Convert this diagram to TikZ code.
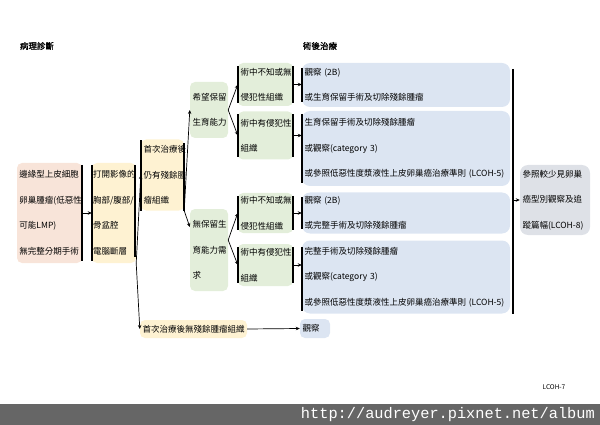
\documentclass[tikz,border=0pt]{standalone}
\usepackage{xcolor}
\usepackage{fontspec}
\setmainfont{Noto Sans CJK TC}
\newfontfamily\titlefont[FakeBold=1.5]{Noto Sans CJK TC}
\newfontfamily\urlfont{Liberation Mono}
\usepackage{tikz}
\usetikzlibrary{arrows.meta,positioning,calc}
\definecolor{pinkbox}{HTML}{F8E4D9}
\definecolor{yellowbox}{HTML}{FEF2D2}
\definecolor{greenbox}{HTML}{E3EEDA}
\definecolor{bluebox}{HTML}{DCE5F2}
\definecolor{graybox}{HTML}{DEE1E7}
\definecolor{wmbar}{HTML}{666666}

\begin{document}
\begin{tikzpicture}[
  x=1pt,y=-1pt,
  font=\fontsize{8.5}{25.5}\selectfont,
  box/.style={rounded corners=5pt,inner xsep=2.5pt,inner ysep=0pt,align=left},
  plan/.style={box,fill=bluebox,rounded corners=8pt,text width=203pt},
  bar/.style={line width=1.6pt},
  arr/.style={-{Stealth[length=4pt,width=3.5pt]},line width=0.7pt}
]
\useasboundingbox (0,0) rectangle (600,425);
\node[font=\titlefont\fontsize{8.5}{10}\selectfont] (pathotitle) at (37,46) {病理診斷};
\node[font=\titlefont\fontsize{8.5}{10}\selectfont] (posttitle) at (320,46) {術後治療};
\node[box,fill=pinkbox,text width=60pt,minimum height=100pt] (patho) at (49.5,213) {邊緣型上皮細胞\\卵巢腫瘤(低惡性\\可能LMP)\\無完整分期手術};
\node[box,fill=yellowbox,inner xsep=1pt,text width=42pt,minimum height=100pt] (imaging) at (114,213) {打開影像的\\胸部/腹部/\\骨盆腔\\電腦斷層};
\node[box,fill=yellowbox,text width=38pt,minimum height=71pt] (residual) at (162.5,175) {首次治療後\\仍有殘餘腫\\瘤組織};
\node[box,fill=yellowbox,text width=102pt,minimum height=18pt] (norest) at (193.5,329) {首次治療後無殘餘腫瘤組織};
\node[box,fill=greenbox,text width=33pt,minimum height=56pt] (keepfert) at (209,110) {希望保留\\生育能力};
\node[box,fill=greenbox,text width=33pt,minimum height=82pt] (nokeepfert) at (209,250) {無保留生\\育能力需\\求};
\node[box,fill=greenbox,text width=50pt,minimum height=43pt] (unk1) at (265.5,84.5) {術中不知或無\\侵犯性組織};
\node[box,fill=greenbox,text width=50pt,minimum height=48pt] (inv1) at (265.5,135.5) {術中有侵犯性\\組織};
\node[box,fill=greenbox,text width=50pt,minimum height=40pt] (unk2) at (265.5,213) {術中不知或無\\侵犯性組織};
\node[box,fill=greenbox,text width=50pt,minimum height=42pt] (inv2) at (265.5,265) {術中有侵犯性\\組織};
\node[plan,minimum height=44pt] (plan1) at (406,85) {觀察~(2B)\\或生育保留手術及切除殘餘腫瘤};
\node[plan,minimum height=75pt] (plan2) at (406,148.5) {生育保留手術及切除殘餘腫瘤\\或觀察(category~3)\\或參照低惡性度漿液性上皮卵巢癌治療準則~(LCOH-5)};
\node[plan,minimum height=41pt] (plan3) at (406,213) {觀察~(2B)\\或完整手術及切除殘餘腫瘤};
\node[plan,minimum height=73pt] (plan4) at (406,277) {完整手術及切除殘餘腫瘤\\或觀察(category~3)\\或參照低惡性度漿液性上皮卵巢癌治療準則~(LCOH-5)};
\node[box,fill=bluebox,text width=25pt,minimum height=19pt] (watch) at (315,328.5) {觀察};
\node[box,fill=graybox,rounded corners=8pt,text width=65pt,minimum height=70pt] (rare) at (555,200) {參照較少見卵巢\\癌型別觀察及追\\蹤篇幅(LCOH-8)};
\node[font=\fontsize{6.5}{8}\selectfont] (page) at (554,387) {LCOH-7};
% brackets
\draw[bar] ([yshift=-2pt]patho.north east) -- ([yshift=2pt]patho.south east);
\draw[bar] ([yshift=-2pt]imaging.north west) -- ([yshift=2pt]imaging.south west);
\draw[bar] ([xshift=-1pt,yshift=-2pt]imaging.north east) -- ([xshift=-1pt,yshift=6pt]imaging.south east);
\draw[bar] ([yshift=-1pt]residual.north west) -- (residual.south west);
\draw[bar] ([yshift=-4pt]residual.north east) -- (residual.south east);
\draw[bar] ([yshift=-3pt]unk1.north west) -- ([yshift=3pt]unk1.south west);
\draw[bar] ([yshift=-3pt]unk1.north east) -- ([yshift=3pt]unk1.south east);
\draw[bar] ([yshift=-3pt]inv1.north west) -- ([yshift=3pt]inv1.south west);
\draw[bar] ([yshift=-3pt]inv1.north east) -- ([yshift=3pt]inv1.south east);
\draw[bar] ([yshift=-3pt]unk2.north west) -- ([yshift=3pt]unk2.south west);
\draw[bar] ([yshift=-3pt]unk2.north east) -- ([yshift=3pt]unk2.south east);
\draw[bar] ([yshift=-3pt]inv2.north west) -- ([yshift=3pt]inv2.south west);
\draw[bar] ([yshift=-3pt]inv2.north east) -- ([yshift=3pt]inv2.south east);
\draw[bar] ([yshift=-5pt]plan1.north west) -- ([yshift=5pt]plan1.south west);
\draw[bar] ([yshift=-3pt]plan2.north west) -- ([yshift=3pt]plan2.south west);
\draw[bar] ([yshift=-5pt]plan3.north west) -- ([yshift=5pt]plan3.south west);
\draw[bar] ([yshift=-7pt]plan4.north west) -- ([yshift=3pt]plan4.south west);
\coordinate (rtop) at ([xshift=3pt,yshift=-6pt]plan1.north east);
\coordinate (rbot) at ([xshift=3pt]plan4.south east);
\draw[bar] (rtop) -- (rbot);
% connectors
\draw[arr] (patho.east) -- (imaging.west);
\draw[arr] (imaging.south east) -- (residual.west);
\draw[arr] (imaging.south east) -- (norest.west);
\draw[arr] (residual.south east) -- (keepfert.west);
\draw[arr] (residual.south east) -- ([yshift=23pt]nokeepfert.west);
\draw[arr] (keepfert.east) -- (unk1.west);
\draw[arr] (keepfert.east) -- (inv1.west);
\draw[arr] ([yshift=10pt]nokeepfert.east) -- (unk2.west);
\draw[arr] ([yshift=10pt]nokeepfert.east) -- (inv2.west);
\draw[arr] (unk1.east) -- (unk1.east -| plan1.west);
\draw[arr] (inv1.east) -- (inv1.east -| plan2.west);
\draw[arr] (unk2.east) -- (unk2.east -| plan3.west);
\draw[arr] (inv2.east) -- (inv2.east -| plan4.west);
\draw[arr] (rare.west -| rtop) -- (rare.west);
\draw[arr] (norest.east) -- (watch.west);
% watermark strip
\fill[wmbar] (0,404) rectangle (600,425);
\node[anchor=east,text=white,inner sep=0pt,font=\urlfont\fontsize{15.3}{16}\selectfont] (url) at (595,414.5) {http://audreyer.pixnet.net/album};
\end{tikzpicture}
\end{document}
